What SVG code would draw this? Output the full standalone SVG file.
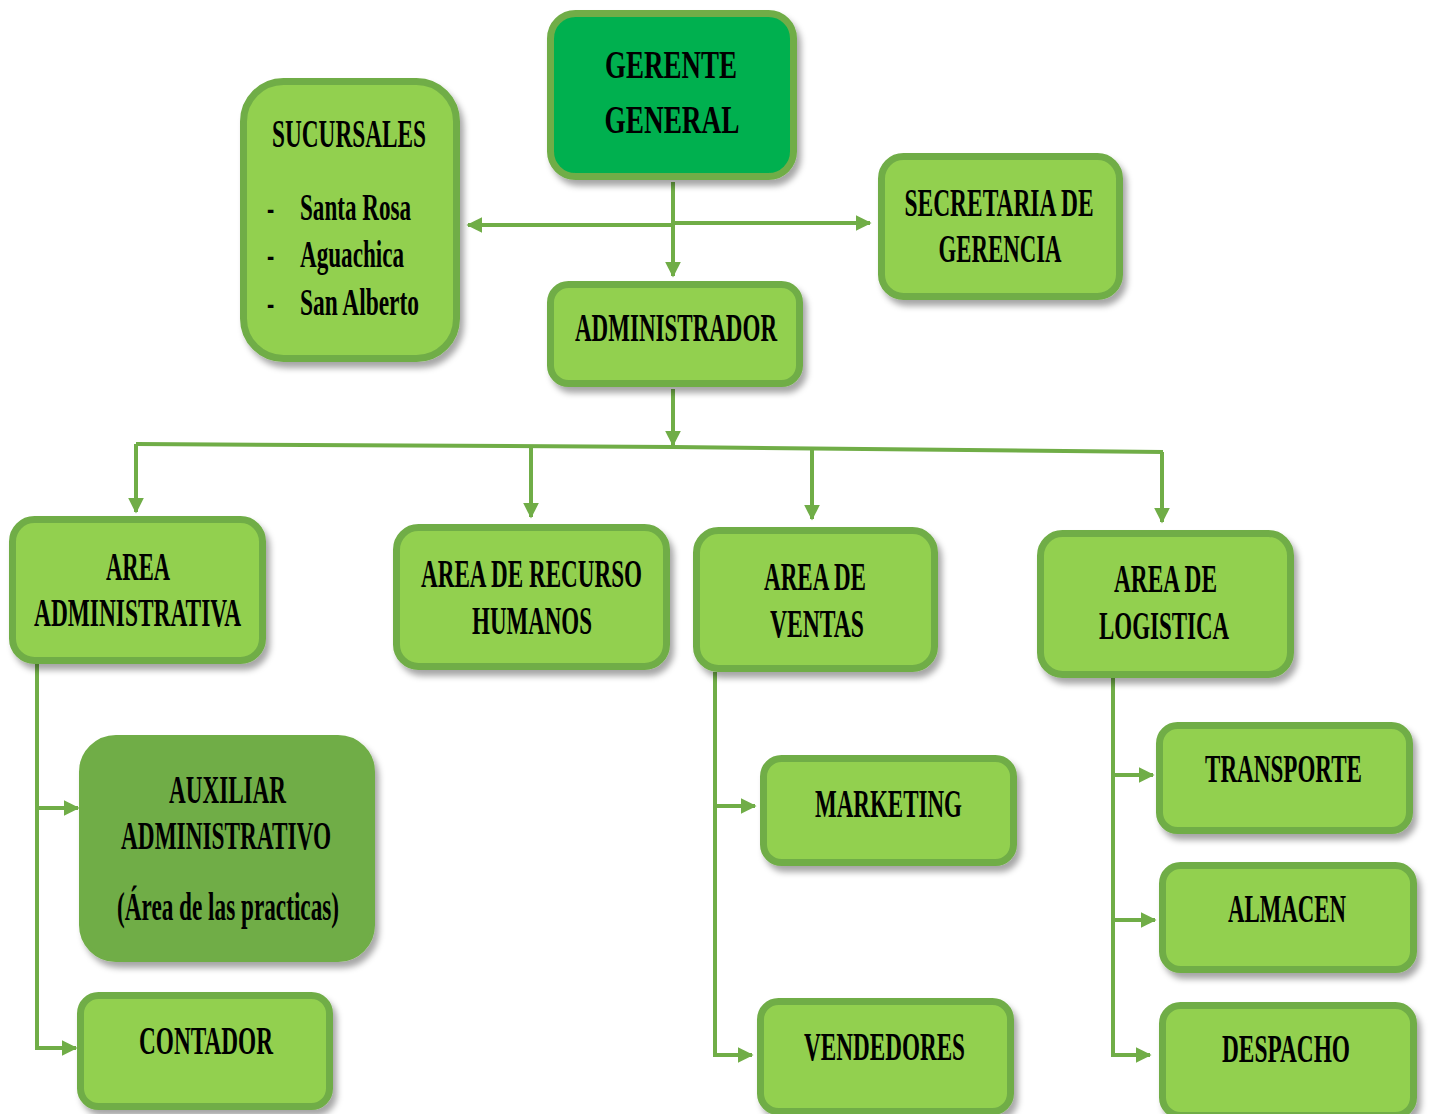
<svg xmlns="http://www.w3.org/2000/svg" width="1430" height="1114" viewBox="0 0 1430 1114">
<style>
.box{fill:#92D050;stroke:#70AD47;stroke-width:7}
.gg{fill:#00B050;stroke:#70AD47;stroke-width:7}
.aux{fill:#70AD47;stroke:#70AD47;stroke-width:4}
.t{font-family:"Liberation Serif","Times New Roman",serif;font-weight:bold;font-size:40px;fill:#000;text-anchor:middle}
.ts{font-family:"Liberation Serif","Times New Roman",serif;font-weight:bold;font-size:38px;fill:#000;text-anchor:start}
.c{fill:none;stroke:#70AD47;stroke-width:4}
.ca{fill:none;stroke:#70AD47;stroke-width:4;marker-end:url(#ah)}
</style>
<defs>
<marker id="ah" viewBox="0 0 10 10" refX="9" refY="5" markerWidth="16" markerHeight="16" markerUnits="userSpaceOnUse" orient="auto">
<path d="M0,0 L10,5 L0,10 z" fill="#70AD47"/>
</marker>
<filter id="sh" x="-10%" y="-10%" width="125%" height="130%">
<feDropShadow dx="4" dy="6" stdDeviation="3" flood-color="#000" flood-opacity="0.35"/>
</filter>
</defs>
<rect width="1430" height="1114" fill="#fff"/>

<g id="connectors">
<path class="ca" d="M673,182 V276"/>
<path class="ca" d="M673,225 H468"/>
<path class="ca" d="M673,223 H870"/>
<path class="ca" d="M673,389 V445"/>
<path class="c" d="M136,444 L673,447 L1163,452"/>
<path class="ca" d="M136,444 V512"/>
<path class="ca" d="M531,446 V517"/>
<path class="ca" d="M812,448 V519"/>
<path class="ca" d="M1162,452 V522"/>
<path class="ca" d="M37,664 V1048 H76"/>
<path class="ca" d="M37,808 H78"/>
<path class="ca" d="M715,672 V1055 H752"/>
<path class="ca" d="M715,806 H755"/>
<path class="ca" d="M1113,678 V1055 H1150"/>
<path class="ca" d="M1113,775 H1153"/>
<path class="ca" d="M1113,920 H1155"/>
</g>

<g id="gerente">
<rect class="gg" filter="url(#sh)" x="550.5" y="13.5" width="243" height="163" rx="25"/>
<text class="t" font-size="48" transform="translate(671,78) scale(0.57,1)" textLength="231.6" lengthAdjust="spacingAndGlyphs">GERENTE</text>
<text class="t" font-size="48" transform="translate(672,133) scale(0.57,1)" textLength="236.8" lengthAdjust="spacingAndGlyphs">GENERAL</text>
</g>

<g id="sucursales">
<rect class="box" filter="url(#sh)" x="243.5" y="81.5" width="213" height="277" rx="40"/>
<text class="t" transform="translate(349,147) scale(0.57,1)" textLength="270.2" lengthAdjust="spacingAndGlyphs">SUCURSALES</text>
<text class="ts" transform="translate(267,220) scale(0.57,1)">-</text>
<text class="ts" transform="translate(300,220) scale(0.57,1)" textLength="194.7" lengthAdjust="spacingAndGlyphs">Santa Rosa</text>
<text class="ts" transform="translate(267,267) scale(0.57,1)">-</text>
<text class="ts" transform="translate(300,267) scale(0.57,1)" textLength="182.5" lengthAdjust="spacingAndGlyphs">Aguachica</text>
<text class="ts" transform="translate(267,315) scale(0.57,1)">-</text>
<text class="ts" transform="translate(300,315) scale(0.57,1)" textLength="208.8" lengthAdjust="spacingAndGlyphs">San Alberto</text>
</g>

<g id="secretaria">
<rect class="box" filter="url(#sh)" x="881.5" y="156.5" width="238" height="140" rx="22"/>
<text class="t" transform="translate(999,216) scale(0.57,1)" textLength="331.6" lengthAdjust="spacingAndGlyphs">SECRETARIA DE</text>
<text class="t" transform="translate(1000,262) scale(0.57,1)" textLength="215.8" lengthAdjust="spacingAndGlyphs">GERENCIA</text>
</g>

<g id="administrador">
<rect class="box" filter="url(#sh)" x="550.5" y="284.5" width="249" height="99" rx="18"/>
<text class="t" transform="translate(676,341) scale(0.57,1)" textLength="354.4" lengthAdjust="spacingAndGlyphs">ADMINISTRADOR</text>
</g>

<g id="area-administrativa">
<rect class="box" filter="url(#sh)" x="12.5" y="519.5" width="250" height="141" rx="22"/>
<text class="t" transform="translate(138,580) scale(0.57,1)" textLength="112.3" lengthAdjust="spacingAndGlyphs">AREA</text>
<text class="t" transform="translate(137.5,626) scale(0.57,1)" textLength="363.2" lengthAdjust="spacingAndGlyphs">ADMINISTRATIVA</text>
</g>

<g id="area-rrhh">
<rect class="box" filter="url(#sh)" x="396.5" y="527.5" width="270" height="139" rx="22"/>
<text class="t" transform="translate(531.5,587) scale(0.57,1)" textLength="387.7" lengthAdjust="spacingAndGlyphs">AREA DE RECURSO</text>
<text class="t" transform="translate(532,634) scale(0.57,1)" textLength="210.5" lengthAdjust="spacingAndGlyphs">HUMANOS</text>
</g>

<g id="area-ventas">
<rect class="box" filter="url(#sh)" x="696.5" y="530.5" width="238" height="138" rx="22"/>
<text class="t" transform="translate(815,590) scale(0.57,1)" textLength="178.9" lengthAdjust="spacingAndGlyphs">AREA DE</text>
<text class="t" transform="translate(817,637) scale(0.57,1)" textLength="164.9" lengthAdjust="spacingAndGlyphs">VENTAS</text>
</g>

<g id="area-logistica">
<rect class="box" filter="url(#sh)" x="1040.5" y="533.5" width="250" height="141" rx="22"/>
<text class="t" transform="translate(1165.5,592) scale(0.57,1)" textLength="180.7" lengthAdjust="spacingAndGlyphs">AREA DE</text>
<text class="t" transform="translate(1164,639) scale(0.57,1)" textLength="228.1" lengthAdjust="spacingAndGlyphs">LOGISTICA</text>
</g>

<g id="auxiliar">
<rect class="aux" filter="url(#sh)" x="81" y="737" width="292" height="223" rx="35"/>
<text class="t" transform="translate(227.5,803) scale(0.57,1)" textLength="205.3" lengthAdjust="spacingAndGlyphs">AUXILIAR</text>
<text class="t" transform="translate(226,849) scale(0.57,1)" textLength="368.4" lengthAdjust="spacingAndGlyphs">ADMINISTRATIVO</text>
<text class="t" transform="translate(228,920) scale(0.57,1)" textLength="389.5" lengthAdjust="spacingAndGlyphs">(Área de las practicas)</text>
</g>

<g id="contador">
<rect class="box" filter="url(#sh)" x="80.5" y="995.5" width="249" height="111" rx="18"/>
<text class="t" transform="translate(206,1054) scale(0.57,1)" textLength="235.1" lengthAdjust="spacingAndGlyphs">CONTADOR</text>
</g>

<g id="marketing">
<rect class="box" filter="url(#sh)" x="763.5" y="758.5" width="250" height="104" rx="18"/>
<text class="t" transform="translate(888.5,817) scale(0.57,1)" textLength="257.9" lengthAdjust="spacingAndGlyphs">MARKETING</text>
</g>

<g id="vendedores">
<rect class="box" filter="url(#sh)" x="760.5" y="1001.5" width="250" height="110" rx="18"/>
<text class="t" transform="translate(884.5,1060) scale(0.57,1)" textLength="282.5" lengthAdjust="spacingAndGlyphs">VENDEDORES</text>
</g>

<g id="transporte">
<rect class="box" filter="url(#sh)" x="1159.5" y="725.5" width="250" height="105" rx="18"/>
<text class="t" transform="translate(1283.5,782) scale(0.57,1)" textLength="275.4" lengthAdjust="spacingAndGlyphs">TRANSPORTE</text>
</g>

<g id="almacen">
<rect class="box" filter="url(#sh)" x="1162.5" y="865.5" width="251" height="104" rx="18"/>
<text class="t" transform="translate(1287,922) scale(0.57,1)" textLength="207" lengthAdjust="spacingAndGlyphs">ALMACEN</text>
</g>

<g id="despacho">
<rect class="box" filter="url(#sh)" x="1162.5" y="1005.5" width="251" height="110" rx="18"/>
<text class="t" transform="translate(1286,1062) scale(0.57,1)" textLength="224.6" lengthAdjust="spacingAndGlyphs">DESPACHO</text>
</g>
</svg>
